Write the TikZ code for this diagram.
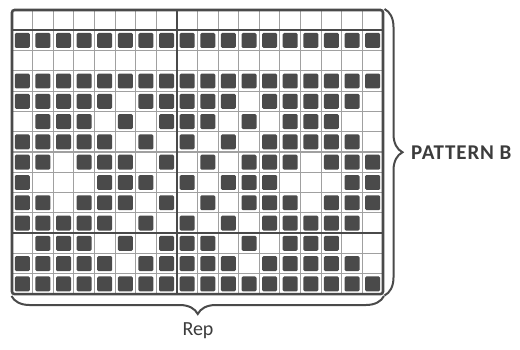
\documentclass[tikz,border=0pt]{standalone}
\usepackage{fontspec}
\setmainfont{Carlito}
\newfontfamily\patfont[LetterSpace=4]{Carlito}
\usetikzlibrary{decorations.pathreplacing}
\definecolor{ink}{HTML}{4A4A4A}
\definecolor{gridgray}{HTML}{A0A0A0}
\definecolor{txt}{HTML}{3C3C3C}
\tikzset{
  cellbox/.style={fill=ink, rounded corners=1.3pt},
  gridline/.style={draw=gridgray, line width=1.1pt},
  divider/.style={draw=ink, line width=2pt},
  frame/.style={draw=ink, line width=2.6pt, rounded corners=2.5pt},
  bracestyle/.style={draw=ink, line width=2pt, decorate, decoration={brace, amplitude=18pt}},
  label/.style={text=txt, inner sep=0pt}
}
\begin{document}
\begin{tikzpicture}[x=1pt,y=-1pt]
\useasboundingbox (0,0) rectangle (520,349);
\def\xo{12}\def\yo{10}\def\cw{20.61}\def\rh{20.29}
% grid lines
\foreach \i in {1,...,17} \draw[gridline] ({\xo+\i*\cw},\yo) -- ({\xo+\i*\cw},{\yo+14*\rh});
\foreach \j in {2,...,13} \draw[gridline] (\xo,{\yo+\j*\rh}) -- ({\xo+18*\cw},{\yo+\j*\rh});
% filled cells
\foreach \j/\cols in {
  1/{1,2,3,4,5,6,7,8,9,10,11,12,13,14,15,16,17,18},
  3/{1,2,3,4,5,6,7,8,9,10,11,12,13,14,15,16,17,18},
  4/{1,2,3,4,5,7,8,9,10,11,13,14,15,16,17},
  5/{2,3,4,6,8,9,10,12,14,15,16},
  6/{1,2,3,4,5,7,9,11,13,14,15,16,17},
  7/{1,2,4,5,6,8,10,12,13,14,16,17,18},
  8/{1,5,6,7,9,11,12,13,17,18},
  9/{1,2,4,5,6,8,10,12,13,14,16,17,18},
  10/{1,2,3,4,5,7,9,11,13,14,15,16,17},
  11/{2,3,4,6,8,9,10,12,14,15,16},
  12/{1,2,3,4,5,7,8,9,10,11,13,14,15,16,17},
  13/{1,2,3,4,5,6,7,8,9,10,11,12,13,14,15,16,17,18}} {
  \foreach \c in \cols {
    \fill[cellbox] ({\xo+(\c-1)*\cw+2.8},{\yo+\j*\rh+2.7}) rectangle ++(15,14.9);
  }
}
% dividers
\draw[divider] ({\xo+8*\cw},\yo) -- ({\xo+8*\cw},{\yo+14*\rh});
\draw[divider] (\xo,{\yo+\rh}) -- ({\xo+18*\cw},{\yo+\rh});
\draw[divider] (\xo,{\yo+11*\rh}) -- ({\xo+18*\cw},{\yo+11*\rh});
% frame
\draw[frame] (\xo,\yo) rectangle ({\xo+18*\cw},{\yo+14*\rh});
% braces
\coordinate (rbTop) at (384.5,9);
\coordinate (rbBot) at (384.5,295.5);
\coordinate (bbRight) at (384,296);
\coordinate (bbLeft) at (11.5,296);
\draw[bracestyle] (rbTop) -- (rbBot);
\draw[bracestyle] (bbRight) -- (bbLeft);
\node[label, anchor=west, font=\patfont\bfseries\fontsize{21}{21}\selectfont] (pat) at (411,153) {PATTERN B};
\node[label, font=\fontsize{20}{20}\selectfont] (rep) at (198,331) {Rep};
\end{tikzpicture}
\end{document}
